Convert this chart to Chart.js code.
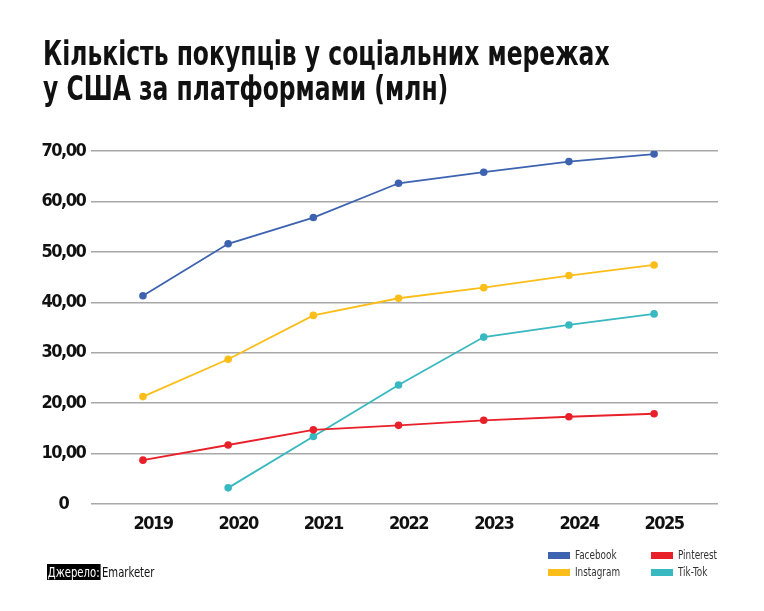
<!DOCTYPE html>
<html lang="uk">
<head>
<meta charset="utf-8">
<script src="https://cdn.jsdelivr.net/npm/chart.js@4/dist/chart.umd.min.js"></script>
<style>
  html, body { margin: 0; padding: 0; background: #fff; }
  body { width: 764px; height: 611px; position: relative; overflow: hidden;
         font-family: "DejaVu Sans Condensed", "DejaVu Sans", sans-serif; }
  #chartBox { position: absolute; left: 0; top: 0; width: 764px; height: 611px; }
  h1 { position: absolute; left: 43px; top: 36px; margin: 0; font-size: 33px; line-height: 35px;
       font-weight: bold; color: #111; white-space: nowrap;
       transform: scaleX(0.79); transform-origin: left top; }
  .source { position: absolute; left: 47px; top: 564px; font-size: 14px; line-height: 17px; color: #111;
            white-space: nowrap; transform: scaleX(0.8); transform-origin: left top; }
  .source b { font-weight: normal; background: #000; color: #fff; padding: 0 1px; margin-right: 2px; }
  #legend { position: absolute; left: 548px; top: 548px; width: 200px; display: grid;
            grid-template-columns: 103px 100px; row-gap: 3px; font-size: 12px; color: #333; }
  #legend span { display: flex; align-items: center; height: 14px; white-space: nowrap; }
  #legend i { display: inline-block; width: 22px; height: 7px; margin-right: 5px; flex: none; }
  #legend em { font-style: normal; display: inline-block; transform: scaleX(0.82); transform-origin: left center; }
</style>
</head>
<body>
<div id="chartBox"><canvas id="socialChart"></canvas></div>
<h1>Кількість покупців у соціальних мережах<br>у США за платформами (млн)</h1>
<div id="legend"></div>
<div class="source"><b>Джерело:</b>Emarketer</div>
<script>
const years = [2019, 2020, 2021, 2022, 2023, 2024, 2025];
const facebook = [41.3, 51.6, 56.8, 63.6, 65.8, 67.9, 69.4];
const instagram = [21.3, 28.7, 37.4, 40.8, 42.9, 45.3, 47.4];
const pinterest = [8.7, 11.7, 14.7, 15.6, 16.6, 17.3, 17.9];
const tiktok = [null, 3.2, 13.4, 23.6, 33.1, 35.5, 37.7];
const yTicks = [0, 10, 20, 30, 40, 50, 60, 70];

const seriesNames = ["Facebook", "Pinterest", "Instagram", "Tik-Tok"];
const seriesColors = ["#3d63b0", "#e8202a", "#fbbd18", "#38b8c0"];
const seriesData = [facebook, pinterest, instagram, tiktok];

const fontFamily = '"DejaVu Sans Condensed", "DejaVu Sans", sans-serif';

function toPoints(values) {
  return years.map((year, i) => ({ x: year, y: values[i] }));
}

const legendBox = document.querySelector("#legend");
seriesNames.forEach((name, i) => {
  const item = document.createElement("span");
  item.innerHTML = `<i style="background:${seriesColors[i]}"></i><em>${name}</em>`;
  legendBox.appendChild(item);
});

// tighter tick text, closer to the narrow face of the original
const tightText = {
  id: "tightText",
  beforeDraw(chart) {
    chart.ctx.letterSpacing = "-1.5px";
  }
};

const canvas = document.querySelector("#socialChart");

new Chart(canvas, {
  type: "line",
  data: {
    datasets: seriesNames.map((name, i) => ({
      label: name,
      data: toPoints(seriesData[i]),
      borderColor: seriesColors[i],
      backgroundColor: seriesColors[i],
      borderWidth: 1.8,
      pointRadius: 3.8,
      pointBorderWidth: 0,
      tension: 0
    }))
  },
  options: {
    responsive: true,
    maintainAspectRatio: false,
    animation: false,
    layout: {
      padding: { top: 151, right: 46, bottom: 67, left: 0 }
    },
    plugins: {
      legend: { display: false },
      tooltip: { enabled: false }
    },
    scales: {
      x: {
        type: "linear",
        min: 2018.39,
        max: 2025.75,
        afterBuildTicks(scale) {
          scale.ticks = years.map((year) => ({ value: year }));
        },
        afterFit(scale) {
          scale.height = 40;
        },
        grid: { display: false },
        border: { display: false },
        ticks: {
          color: "#111",
          padding: 2,
          labelOffset: 10,
          font: { family: fontFamily, size: 18, weight: "bold" },
          callback: (value) => String(value)
        }
      },
      y: {
        min: 0,
        max: 70,
        afterBuildTicks(scale) {
          scale.ticks = yTicks.map((v) => ({ value: v }));
        },
        afterFit(scale) {
          scale.width = 91;
        },
        grid: { color: "#a8a8a8", lineWidth: 1.5, drawTicks: false },
        border: { display: false },
        ticks: {
          color: "#111",
          padding: 2,
          crossAlign: "center",
          font: { family: fontFamily, size: 18, weight: "bold" },
          callback: (value) => value === 0 ? "0" : value.toFixed(2).replace(".", ",")
        }
      }
    }
  },
  plugins: [tightText]
});
</script>
</body>
</html>
